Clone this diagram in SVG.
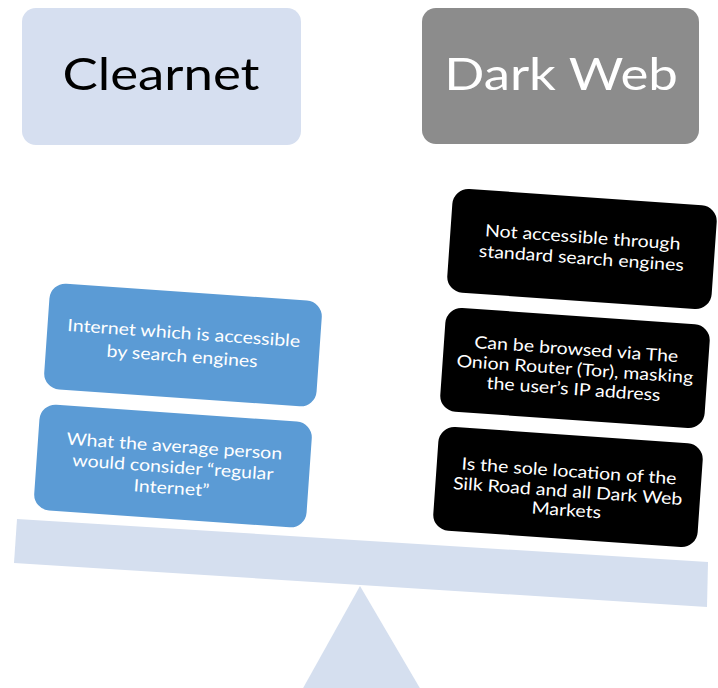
<svg xmlns="http://www.w3.org/2000/svg" width="718" height="688" viewBox="0 0 718 688">
<style>
.hdr{font-family:Lato,"Open Sans","Liberation Sans",sans-serif;font-size:44px;text-anchor:middle}
.body{font-family:Lato,"Open Sans","Liberation Sans",sans-serif;font-size:17px;fill:#fff;text-anchor:middle}
.blue{fill:#5B9BD5}
.black{fill:#000}
.scale{fill:#D5DFEF}
</style>
<rect width="718" height="688" fill="#fff"/>
<g id="clearnet-header">
<rect x="22" y="8" width="279" height="137" rx="14" fill="#D6DFF0"/>
<text class="hdr" transform="translate(161 90) scale(1.2 1)" fill="#000">Clearnet</text>
</g>
<g id="darkweb-header">
<rect x="422" y="8" width="277" height="136" rx="14" fill="#8C8C8C"/>
<text class="hdr" transform="translate(561 90) scale(1.2 1)" fill="#fff">Dark Web</text>
</g>
<g id="fulcrum">
<polygon class="scale" points="360,586 302,690 421,690"/>
</g>
<g id="beam">
<polygon class="scale" points="17,519 708,562 707,607 14,563"/>
</g>
<g id="clear1" transform="rotate(4 183 345)">
<rect class="blue" x="46.5" y="292" width="273" height="106" rx="16"/>
<text class="body" transform="translate(183 339) scale(1.15 1)">Internet which is accessible</text>
<text class="body" transform="translate(183 362) scale(1.15 1)">by search engines</text>
</g>
<g id="clear2" transform="rotate(4 173 466)">
<rect class="blue" x="36.5" y="413" width="273" height="106" rx="16"/>
<text class="body" transform="translate(173 452) scale(1.15 1)">What the average person</text>
<text class="body" transform="translate(173 473) scale(1.15 1)">would consider “regular</text>
<text class="body" transform="translate(173 494) scale(1.15 1)">Internet”</text>
</g>
<g id="dark1" transform="rotate(4 582 249)">
<rect class="black" x="449.5" y="197" width="265" height="104" rx="16"/>
<text class="body" transform="translate(582 243) scale(1.15 1)">Not accessible through</text>
<text class="body" transform="translate(582 264) scale(1.15 1)">standard search engines</text>
</g>
<g id="dark2" transform="rotate(4 575 368)">
<rect class="black" x="442.5" y="316" width="265" height="104" rx="16"/>
<text class="body" transform="translate(575 355) scale(1.15 1)">Can be browsed via The</text>
<text class="body" transform="translate(575 375) scale(1.15 1)">Onion Router (Tor), masking</text>
<text class="body" transform="translate(575 395) scale(1.15 1)">the user’s IP address</text>
</g>
<g id="dark3" transform="rotate(4 568 487)">
<rect class="black" x="435.5" y="435" width="265" height="104" rx="16"/>
<text class="body" transform="translate(568 477) scale(1.15 1)">Is the sole location of the</text>
<text class="body" transform="translate(568 497) scale(1.15 1)">Silk Road and all Dark Web</text>
<text class="body" transform="translate(568 516) scale(1.15 1)">Markets</text>
</g>
</svg>
